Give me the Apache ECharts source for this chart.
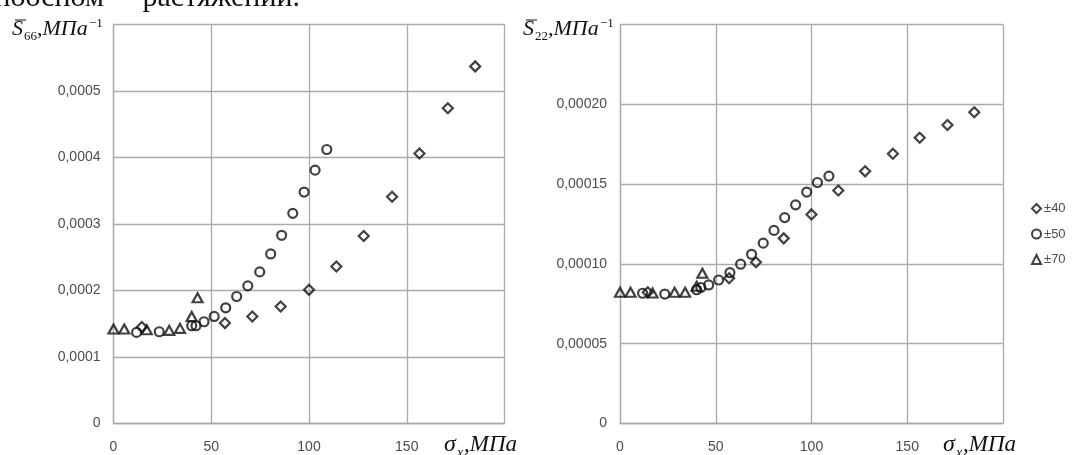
<!DOCTYPE html>
<html>
<head>
<meta charset="utf-8">
<script src="https://cdn.jsdelivr.net/npm/echarts@6/dist/echarts.min.js"></script>
<style>
html,body{margin:0;padding:0;background:#fff;}
#chart{width:1072px;height:455px;}
</style>
</head>
<body>
<div id="chart"></div>
<script>
// ---- data ----
const seriesNames = ['±40', '±50', '±70'];
const xTickLabels = ['0', '50', '100', '150', ''];
const yTickLabelsS66 = ['0', '0,0001', '0,0002', '0,0003', '0,0004', '0,0005', ''];
const yTickLabelsS22 = ['0', '0,00005', '0,00010', '0,00015', '0,00020', ''];

// sigma_x, MPa
const sigma40 = [14.5, 57, 71, 85.5, 100, 114, 128, 142.5, 156.5, 171, 185];
const sigma50 = [11.8, 23.4, 40, 42.2, 46.3, 51.5, 57.4, 63, 68.7, 74.8, 80.4, 86, 91.7, 97.5, 103.1, 109.1];
const sigma70 = [0, 5.5, 17, 28.5, 34, 40, 43];

// S66, MPa^-1
const s66_40 = [0.000145, 0.000151, 0.000161, 0.000176, 0.000201, 0.000236, 0.000282, 0.000341, 0.000406, 0.000474, 0.000537];
const s66_50 = [0.000137, 0.000138, 0.000147, 0.000147, 0.000153, 0.000161, 0.000174, 0.000191, 0.000207, 0.000228, 0.000255, 0.000283, 0.000316, 0.000348, 0.000381, 0.000412];
const s66_70 = [0.000142, 0.000142, 0.000141, 0.000140, 0.000143, 0.000161, 0.000189];

// S22, MPa^-1
const s22_40 = [0.0000822, 0.000091, 0.000101, 0.000116, 0.000131, 0.000146, 0.000158, 0.000169, 0.000179, 0.000187, 0.000195];
const s22_50 = [0.0000816, 0.0000811, 0.0000838, 0.0000852, 0.0000868, 0.0000899, 0.0000945, 0.0000998, 0.000106, 0.000113, 0.000121, 0.000129, 0.000137, 0.000145, 0.000151, 0.000155];
const s22_70 = [0.0000822, 0.0000822, 0.0000818, 0.0000822, 0.0000822, 0.000086, 0.0000941];

// ---- chart ----
const zip = (xs, ys) => xs.map((x, i) => [x, ys[i]]);
const symbols = ['diamond', 'circle', 'triangle'];
const symbolSizes = [[10, 10], 9, [10, 9]];
const gridColor = '#aaaaaa';
const labelColor = '#4d4d4d';
const serif = '"Liberation Serif", "Times New Roman", serif';
const sans = '"Liberation Sans", Arial, sans-serif';

function xAxisCfg(gi) {
  return {
    type: 'value', gridIndex: gi, min: 0, max: 200, interval: 50,
    axisLine: { show: true, lineStyle: { color: gridColor, width: 1.3 } },
    axisTick: { show: false },
    splitLine: { show: true, lineStyle: { color: gridColor, width: 1.3 } },
    axisLabel: {
      margin: 17, color: labelColor, fontSize: 14, fontFamily: sans,
      formatter: (v, i) => xTickLabels[i]
    }
  };
}
function yAxisCfg(gi, max, interval, labels) {
  return {
    type: 'value', gridIndex: gi, min: 0, max: max, interval: interval,
    axisLine: { show: true, lineStyle: { color: gridColor, width: 1.3 } },
    axisTick: { show: false },
    splitLine: { show: true, lineStyle: { color: gridColor, width: 1.3 } },
    axisLabel: {
      margin: 13, color: labelColor, fontSize: 14, fontFamily: sans,
      formatter: (v, i) => labels[i]
    }
  };
}

const yLeft = [s66_40, s66_50, s66_70];
const yRight = [s22_40, s22_50, s22_70];
const xs = [sigma40, sigma50, sigma70];

const series = [];
[yLeft, yRight].forEach((ys, gi) => {
  ys.forEach((yv, k) => {
    series.push({
      type: 'scatter', name: seriesNames[k], xAxisIndex: gi, yAxisIndex: gi,
      symbol: symbols[k], symbolSize: symbolSizes[k],
      itemStyle: { color: 'rgba(255,255,255,0)', borderColor: '#111', borderWidth: 2.2 },
      emphasis: { disabled: true },
      data: zip(xs[k], yv)
    });
  });
});

function axisTitle(dx, sub) {
  return [
    { type: 'text', x: 12 + dx, y: 29.5, style: { text: 'S', font: 'italic 22px ' + serif, fill: '#111', verticalAlign: 'middle' } },
    { type: 'line', shape: { x1: 15 + dx, y1: 20, x2: 26 + dx, y2: 20 }, style: { stroke: '#111', lineWidth: 1 } },
    { type: 'text', x: 24 + dx, y: 36.5, style: { text: sub, font: '13px ' + serif, fill: '#111', verticalAlign: 'middle' } },
    { type: 'text', x: 37 + dx, y: 29.5, style: { text: ',МПа', font: 'italic 22px ' + serif, fill: '#111', verticalAlign: 'middle' } },
    { type: 'text', x: 89 + dx, y: 23.5, style: { text: '−1', font: '13px ' + serif, fill: '#111', verticalAlign: 'middle' } }
  ];
}
function sigmaTitle(dx) {
  return [
    { type: 'text', x: 444 + dx, y: 445, style: { text: 'σ', font: 'italic 24px ' + serif, fill: '#111', verticalAlign: 'middle' } },
    { type: 'text', x: 457 + dx, y: 453, style: { text: 'x', font: 'italic 14px ' + serif, fill: '#111', verticalAlign: 'middle' } },
    { type: 'text', x: 464 + dx, y: 445, style: { text: ',МПа', font: 'italic 23px ' + serif, fill: '#111', verticalAlign: 'middle' } }
  ];
}

const graphic = [
  { type: 'text', x: 104, y: -1.5, style: { text: 'одноосном', font: '30px ' + serif, fill: '#111', align: 'right', verticalAlign: 'middle' } },
  { type: 'text', x: 300, y: -1.5, style: { text: 'растяжении.', font: '30px ' + serif, fill: '#111', align: 'right', verticalAlign: 'middle' } }
].concat(axisTitle(0, '66'), axisTitle(511, '22'), sigmaTitle(0), sigmaTitle(499));

const chart = echarts.init(document.getElementById('chart'), null, { renderer: 'canvas' });
chart.setOption({
  animation: false,
  backgroundColor: '#fff',
  grid: [
    { left: 113.5, top: 24.5, width: 391, height: 399 },
    { left: 620, top: 24.5, width: 383, height: 399 }
  ],
  xAxis: [xAxisCfg(0), xAxisCfg(1)],
  yAxis: [yAxisCfg(0, 0.0006, 0.0001, yTickLabelsS66), yAxisCfg(1, 0.00025, 0.00005, yTickLabelsS22)],
  legend: {
    orient: 'vertical', left: 1031, top: 201, padding: 0,
    itemWidth: 9, itemHeight: 9, itemGap: 10.5,
    data: seriesNames,
    selectedMode: false,
    textStyle: { color: labelColor, fontSize: 13, lineHeight: 15, fontFamily: sans, padding: [0, 0, 0, -2] },
    itemStyle: { color: 'rgba(255,255,255,0)', borderColor: '#111', borderWidth: 2 }
  },
  graphic: graphic,
  series: series
});
</script>
</body>
</html>
